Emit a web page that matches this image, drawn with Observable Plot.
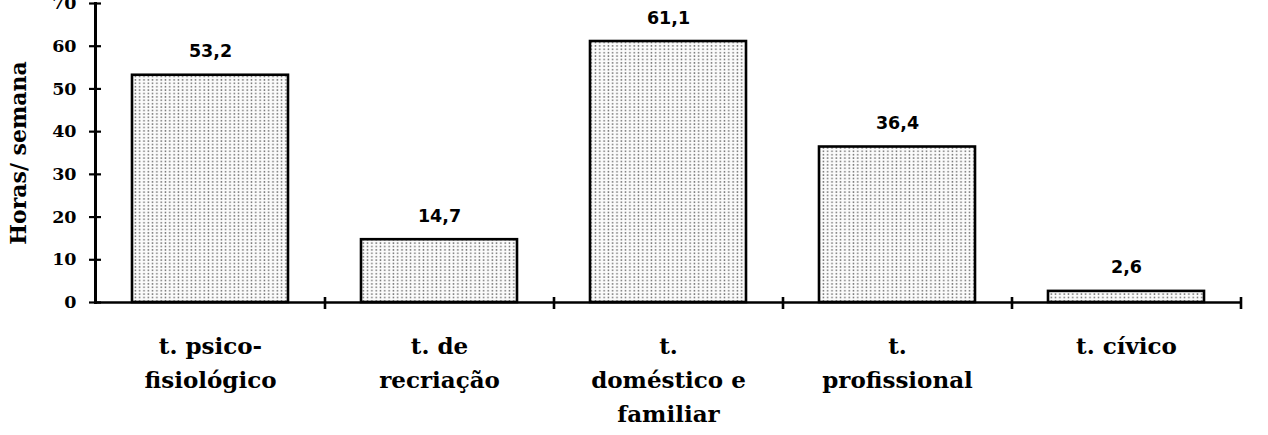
<!DOCTYPE html>
<html>
<head>
<meta charset="utf-8">
<script src="https://cdn.jsdelivr.net/npm/d3@7"></script>
<script src="https://cdn.jsdelivr.net/npm/@observablehq/plot@0.6"></script>
<style>
  html, body { margin: 0; padding: 0; background: #fff; }
  #defs { position: absolute; width: 0; height: 0; }
</style>
</head>
<body>
<svg id="defs" aria-hidden="true">
  <defs>
    <pattern id="dots" patternUnits="userSpaceOnUse" width="4.3" height="3.4">
      <rect width="4.3" height="3.4" fill="#fbfbfb"></rect>
      <circle cx="2.1" cy="1.7" r="0.85" fill="#6e6e6e"></circle>
    </pattern>
  </defs>
</svg>
<div id="chart"></div>
<script>
const categories = ["t. psico-\nfisiológico", "t. de\nrecriação", "t.\ndoméstico e\nfamiliar", "t.\nprofissional", "t. cívico"];
const values = [53.2, 14.7, 61.1, 36.4, 2.6];
const valueLabels = ["53,2", "14,7", "61,1", "36,4", "2,6"];
const yTicks = [0, 10, 20, 30, 40, 50, 60, 70];
const yTitle = "Horas/ semana";

const data = categories.map((c, i) => ({cat: c, value: values[i], label: valueLabels[i]}));

const width = 1268, height = 435;
const mL = 95, mR = 28, mT = 3, mB = 133;
const frameW = width - mL - mR, frameH = height - mT - mB;
const step = frameW / categories.length;
const serif = "DejaVu Serif";

const chart = Plot.plot({
  width, height,
  marginLeft: mL, marginRight: mR, marginTop: mT, marginBottom: mB,
  style: {background: "#fff", color: "#000"},
  x: {domain: categories, paddingInner: 0.32, paddingOuter: 0.16, label: null},
  y: {domain: [0, 70], label: null},
  marks: [
    Plot.barY(data, {x: "cat", y: "value", fill: "url(#dots)", stroke: "#000", strokeWidth: 2.6}),
    Plot.ruleY([0], {stroke: "#000", strokeWidth: 2.6}),
    Plot.frame({anchor: "left", stroke: "#000", strokeWidth: 3}),
    Plot.tickY(yTicks, {y: d => d, stroke: "#000", strokeWidth: 2.2, insetLeft: -6, insetRight: frameW - 6}),
    Plot.tickX(categories, {x: d => d, dx: step / 2, stroke: "#000", strokeWidth: 2.6, insetTop: frameH - 5, insetBottom: -7}),
    Plot.axisY(yTicks, {tickSize: 0, tickPadding: 19, fontSize: 17.5, fontWeight: "bold", fontFamily: serif, label: null}),
    Plot.axisX({tickSize: 0, tickPadding: 27, fontSize: 23, fontWeight: "bold", fontFamily: serif, lineHeight: 1.48, label: null}),
    Plot.text(data, {x: "cat", y: "value", text: "label", dy: -18, lineAnchor: "bottom", fontSize: 17.5, fontWeight: "bold", fontFamily: "DejaVu Sans", fill: "#000"}),
    Plot.text([yTitle], {frameAnchor: "left", textAnchor: "middle", rotate: -90, dx: -77, lineAnchor: "middle", fontSize: 22, fontWeight: "bold", fontFamily: serif, fill: "#000"})
  ]
});
document.getElementById("chart").appendChild(chart);
</script>
</body>
</html>
